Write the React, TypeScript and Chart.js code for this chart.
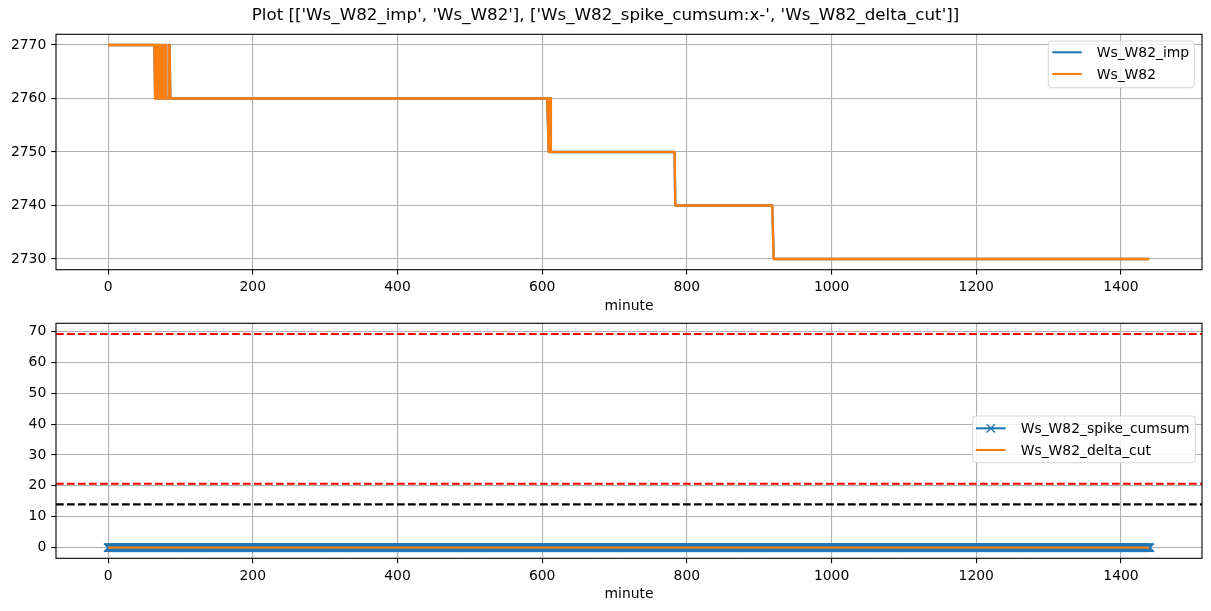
import React, { useEffect, useRef } from 'react';
import { Chart, registerables } from 'chart.js';

Chart.register(...registerables);

// ---------------- data ----------------
const FIG_TITLE = "Plot [['Ws_W82_imp', 'Ws_W82'], ['Ws_W82_spike_cumsum:x-', 'Ws_W82_delta_cut']]";
const X_LABEL = 'minute';
const FIRST_MINUTE = 0;
const LAST_MINUTE = 1440;

const xTicks = [0, 200, 400, 600, 800, 1000, 1200, 1400];
const topYTicks = [2730, 2740, 2750, 2760, 2770];
const bottomYTicks = [0, 10, 20, 30, 40, 50, 60, 70];

// step series given as [startMinute, value] runs (value holds until the next run)
const wsW82Runs: [number, number][] = [
  [0, 2770],
  [65, 2760], [66, 2770], [67, 2760], [68, 2770], [69, 2760], [70, 2770],
  [72, 2760], [73, 2770], [74, 2760], [75, 2770], [76, 2760], [77, 2770], [78, 2760], [79, 2770], [80, 2760],
  [84, 2770], [86, 2760],
  [609, 2750], [610, 2760], [612, 2750],
  [784, 2740],
  [920, 2730],
];
const wsW82ImpRuns: [number, number][] = [
  [0, 2770],
  [65, 2760], [66, 2770], [67, 2760], [68, 2770], [69, 2760], [70, 2770],
  [72, 2760], [73, 2770], [74, 2760], [75, 2770], [76, 2760], [77, 2770], [78, 2760], [79, 2770], [80, 2760],
  [84, 2770], [86, 2760],
  [609, 2750], [610, 2760], [612, 2750],
  [784, 2740],
  [920, 2730],
];
const spikeCumsumRuns: [number, number][] = [[0, 0]];
const deltaCutRuns: [number, number][] = [[0, 0]];
const redCutLevels = [69.2, 20.7];
const blackCutLevels = [14.0];

// ---------------- style ----------------
const BLUE = '#1f77b4';
const ORANGE = '#ff7f0e';
const GRID = '#b0b0b0';
const FONT = 'DejaVu Sans';
const FS = 13.9;
const LW = 2.08;
const DATA_LW = 2.35;

const minutes: number[] = [];
for (let m = FIRST_MINUTE; m <= LAST_MINUTE; m++) minutes.push(m);

function expand(runs: [number, number][]) {
  return minutes.map((m) => {
    let v = runs[0][1];
    for (const [s, val] of runs) {
      if (s <= m) v = val;
      else break;
    }
    return { x: m, y: v };
  });
}

function withMargin(lo: number, hi: number) {
  const d = (hi - lo) * 0.05;
  return [lo - d, hi + d];
}

const [X_MIN, X_MAX] = withMargin(FIRST_MINUTE, LAST_MINUTE);
const topVals = wsW82Runs.map((r) => r[1]).concat(wsW82ImpRuns.map((r) => r[1]));
const [TOP_MIN, TOP_MAX] = withMargin(Math.min(...topVals), Math.max(...topVals));
const botVals = spikeCumsumRuns.map((r) => r[1]).concat(deltaCutRuns.map((r) => r[1]), redCutLevels, blackCutLevels);
const [BOT_MIN, BOT_MAX] = withMargin(Math.min(...botVals), Math.max(...botVals));

function hline(level: number) {
  return [
    { x: X_MIN, y: level },
    { x: X_MAX, y: level },
  ];
}

const framePlugin = {
  id: 'frame',
  afterDatasetsDraw(chart: any) {
    const { left, top, right, bottom } = chart.chartArea;
    const ctx = chart.ctx;
    ctx.save();
    ctx.strokeStyle = '#000';
    ctx.lineWidth = 1.1;
    ctx.strokeRect(left, top, right - left, bottom - top);
    ctx.restore();
  },
};

type LegendItem = { label: string; color: string; y: number; marker?: boolean };
function makeLegend(id: string, box: { x0: number; y0: number; x1: number; y1: number; h0: number; h1: number; tx: number }, items: LegendItem[]) {
  return {
    id,
    afterDraw(chart: any) {
      const ctx = chart.ctx;
      ctx.save();
      const r = 3;
      const { x0, y0, x1, y1 } = box;
      ctx.beginPath();
      ctx.moveTo(x0 + r, y0);
      ctx.lineTo(x1 - r, y0);
      ctx.arcTo(x1, y0, x1, y0 + r, r);
      ctx.lineTo(x1, y1 - r);
      ctx.arcTo(x1, y1, x1 - r, y1, r);
      ctx.lineTo(x0 + r, y1);
      ctx.arcTo(x0, y1, x0, y1 - r, r);
      ctx.lineTo(x0, y0 + r);
      ctx.arcTo(x0, y0, x0 + r, y0, r);
      ctx.closePath();
      ctx.fillStyle = 'rgba(255,255,255,0.8)';
      ctx.fill();
      ctx.strokeStyle = 'rgba(204,204,204,0.8)';
      ctx.lineWidth = 1;
      ctx.stroke();
      for (const it of items) {
        ctx.strokeStyle = it.color;
        ctx.lineWidth = LW;
        ctx.beginPath();
        ctx.moveTo(box.h0, it.y);
        ctx.lineTo(box.h1, it.y);
        ctx.stroke();
        if (it.marker) {
          const cx = (box.h0 + box.h1) / 2;
          const s = 4.17;
          ctx.lineWidth = 1.39;
          ctx.beginPath();
          ctx.moveTo(cx - s, it.y - s);
          ctx.lineTo(cx + s, it.y + s);
          ctx.moveTo(cx - s, it.y + s);
          ctx.lineTo(cx + s, it.y - s);
          ctx.stroke();
        }
        ctx.fillStyle = '#000';
        ctx.font = `${FS}px "${FONT}"`;
        ctx.textAlign = 'left';
        ctx.textBaseline = 'middle';
        ctx.fillText(it.label, box.tx, it.y + 1);
      }
      ctx.restore();
    },
  };
}

const titlePlugin = {
  id: 'figTitle',
  afterDraw(chart: any) {
    const ctx = chart.ctx;
    ctx.save();
    ctx.fillStyle = '#000';
    ctx.font = `16.7px "${FONT}"`;
    ctx.textAlign = 'center';
    ctx.textBaseline = 'middle';
    ctx.fillText(FIG_TITLE, 605.5, 16);
    ctx.restore();
  },
};

function zeroPad(s: any) {
  s.paddingTop = 0;
  s.paddingBottom = 0;
  s.paddingLeft = 0;
  s.paddingRight = 0;
}

function xScale(height: number, titlePadBottom: number) {
  return {
    type: 'linear',
    min: X_MIN,
    max: X_MAX,
    afterBuildTicks: (s: any) => {
      s.ticks = xTicks.map((v) => ({ value: v }));
    },
    afterFit: (s: any) => {
      s.height = height;
      zeroPad(s);
    },
    border: { display: false },
    grid: { color: GRID, lineWidth: 1.1, tickColor: '#000', tickWidth: 1.1, tickLength: 4.86 },
    ticks: {
      autoSkip: false,
      maxRotation: 0,
      padding: 4.86,
      color: '#000',
      font: { family: FONT, size: FS },
      callback: (v: any) => String(v),
    },
    title: {
      display: true,
      text: X_LABEL,
      color: '#000',
      font: { family: FONT, size: FS },
      padding: { top: 0, bottom: titlePadBottom },
    },
  };
}

function yScale(min: number, max: number, ticks: number[]) {
  return {
    type: 'linear',
    min,
    max,
    afterBuildTicks: (s: any) => {
      s.ticks = ticks.map((v) => ({ value: v }));
    },
    afterFit: (s: any) => {
      s.width = 56;
      zeroPad(s);
    },
    border: { display: false },
    grid: { color: GRID, lineWidth: 1.1, tickColor: '#000', tickWidth: 1.1, tickLength: 4.86 },
    ticks: {
      autoSkip: false,
      padding: 4.86,
      color: '#000',
      font: { family: FONT, size: FS },
      callback: (v: any) => String(v),
    },
  };
}

const TOP_H = 316;
const BOT_H = 295;

export default function App() {
  const topRef = useRef<HTMLCanvasElement | null>(null);
  const botRef = useRef<HTMLCanvasElement | null>(null);

  useEffect(() => {
    Chart.defaults.font.family = FONT;
    Chart.defaults.color = '#000';

    const top = new Chart(topRef.current as HTMLCanvasElement, {
      type: 'line',
      data: {
        datasets: [
          {
            label: 'Ws_W82',
            data: expand(wsW82Runs),
            borderColor: ORANGE,
            backgroundColor: ORANGE,
            borderWidth: DATA_LW,
            pointRadius: 0,
            borderJoinStyle: 'round',
            order: 0,
          },
          {
            label: 'Ws_W82_imp',
            data: expand(wsW82ImpRuns),
            borderColor: BLUE,
            backgroundColor: BLUE,
            borderWidth: DATA_LW,
            pointRadius: 0,
            borderJoinStyle: 'round',
            order: 1,
          },
        ],
      },
      options: {
        animation: false,
        responsive: false,
        maintainAspectRatio: false,
        events: [],
        layout: { padding: { top: 34.3, left: 0, right: 9, bottom: 0 } },
        plugins: { legend: { display: false }, tooltip: { enabled: false } },
        scales: {
          x: xScale(TOP_H - 269.7, 1.66) as any,
          y: yScale(TOP_MIN, TOP_MAX, topYTicks) as any,
        },
      },
      plugins: [
        framePlugin,
        makeLegend('legendTop', { x0: 1048.3, y0: 41, x1: 1194.3, y1: 87.7, h0: 1052.3, h1: 1081.7, tx: 1096.7 }, [
          { label: 'Ws_W82_imp', color: BLUE, y: 52.3 },
          { label: 'Ws_W82', color: ORANGE, y: 74 },
        ]),
        titlePlugin,
      ],
    } as any);

    const datasets: any[] = [
      {
        label: 'Ws_W82_delta_cut',
        data: expand(deltaCutRuns),
        borderColor: ORANGE,
        borderWidth: LW,
        pointRadius: 0,
        order: 0,
      },
      {
        label: 'Ws_W82_spike_cumsum',
        data: expand(spikeCumsumRuns),
        borderColor: BLUE,
        borderWidth: LW,
        pointStyle: 'crossRot',
        pointRadius: 5.9,
        pointBorderWidth: 1.39,
        pointBorderColor: BLUE,
        pointBackgroundColor: BLUE,
        order: 1,
      },
    ];
    redCutLevels.forEach((lv, i) => {
      datasets.push({
        label: `red_cut_${i}`,
        data: hline(lv),
        borderColor: '#ff0000',
        borderWidth: LW,
        borderDash: [7.7, 3.3],
        pointRadius: 0,
        order: -1 - i,
      });
    });
    blackCutLevels.forEach((lv, i) => {
      datasets.push({
        label: `black_cut_${i}`,
        data: hline(lv),
        borderColor: '#000000',
        borderWidth: LW,
        borderDash: [7.7, 3.3],
        pointRadius: 0,
        order: -5 - i,
      });
    });

    const bot = new Chart(botRef.current as HTMLCanvasElement, {
      type: 'line',
      data: { datasets },
      options: {
        animation: false,
        responsive: false,
        maintainAspectRatio: false,
        events: [],
        layout: { padding: { top: 6.3, left: 0, right: 9, bottom: 0 } },
        plugins: { legend: { display: false }, tooltip: { enabled: false } },
        scales: {
          x: xScale(BOT_H - 242.3, 8.66) as any,
          y: yScale(BOT_MIN, BOT_MAX, bottomYTicks) as any,
        },
      },
      plugins: [
        framePlugin,
        makeLegend('legendBot', { x0: 972.7, y0: 416 - TOP_H, x1: 1195.3, y1: 462.7 - TOP_H, h0: 976, h1: 1005.7, tx: 1020.7 }, [
          { label: 'Ws_W82_spike_cumsum', color: BLUE, y: 428.3 - TOP_H, marker: true },
          { label: 'Ws_W82_delta_cut', color: ORANGE, y: 450 - TOP_H },
        ]),
      ],
    } as any);

    return () => {
      top.destroy();
      bot.destroy();
    };
  }, []);

  return (
    <div style={{ position: 'fixed', left: 0, top: 0, width: 1211, height: 611, background: '#fff', overflow: 'hidden' }}>
      <canvas ref={topRef} width={1211} height={TOP_H} style={{ position: 'absolute', left: 0, top: 0, width: 1211, height: TOP_H, display: 'block' }} />
      <canvas ref={botRef} width={1211} height={BOT_H} style={{ position: 'absolute', left: 0, top: TOP_H, width: 1211, height: BOT_H, display: 'block' }} />
    </div>
  );
}
